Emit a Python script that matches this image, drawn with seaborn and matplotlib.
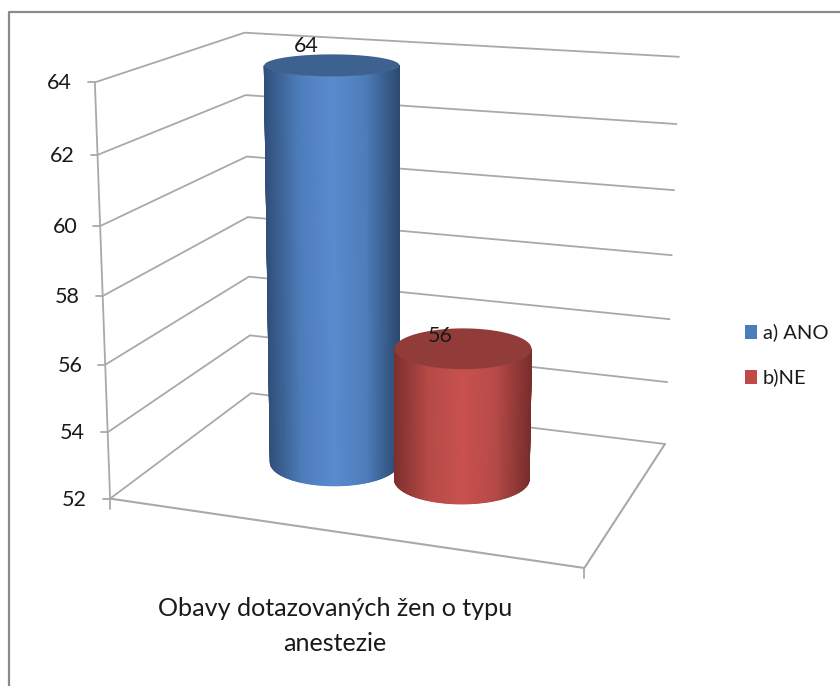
import numpy as np
import pandas as pd
import matplotlib
matplotlib.use("Agg")
import matplotlib.pyplot as plt
from matplotlib.patches import Polygon, Rectangle
import seaborn as sns

# Chart content
series_names = ["a) ANO", "b)NE"]
series_values = [64, 56]
tick_values = [52, 54, 56, 58, 60, 62, 64]
category_lines = "Obavy dotazovaných žen o typu\nanestezie"
value_min, value_max = 52, 64

# Colours
edge_shades = [["#31507b", "#4d7dba", "#5a8bcf", "#4d7dba", "#2d4a72"],
               ["#7d302e", "#b64a47", "#c9514f", "#b64a47", "#7a2e2c"]]
top_colours = ["#3e628f", "#913c39"]
swatch_colours = ["#4a7ebb", "#be4b48"]
grid_colour = "#a9a9a9"
frame_colour = "#8a8a8a"
text_colour = "#1a1a1a"

WIDTH, HEIGHT = 840, 686
FONT = "Lato"

sns.set_theme(style="white")
plt.rcParams["font.family"] = [FONT, "DejaVu Sans"]

# Perspective camera of the 3D plot box: box coordinates (x, depth, value)
# on the left of each pair, canvas position on the right.
box_anchors = [
    ((0, 0, 52), (110, 499)), ((0, 0, 58), (103, 296)), ((0, 0, 64), (95, 82)),
    ((0, 1, 52), (251, 393)), ((0, 1, 58), (248, 217)), ((0, 1, 64), (244, 33)),
    ((1, 1, 52), (665, 444)), ((1, 1, 58), (672, 255)), ((1, 1, 64), (679, 57)),
    ((1, 0, 52), (584, 568)),
]


def fit_camera(anchors):
    rows = []
    for (x, z, v), (px, py) in anchors:
        w = (v - value_min) / (value_max - value_min)
        rows.append([x, z, w, 1, 0, 0, 0, 0, -px * x, -px * z, -px * w, -px])
        rows.append([0, 0, 0, 0, x, z, w, 1, -py * x, -py * z, -py * w, -py])
    return np.linalg.svd(np.array(rows, float))[2][-1].reshape(3, 4)


camera = fit_camera(box_anchors)


def project(x, z, v):
    x, z, v = np.broadcast_arrays(x, z, v)
    w = (v - value_min) / (value_max - value_min)
    h = np.stack([x, z, w, np.ones_like(w, dtype=float)])
    p = camera @ h
    return p[0] / p[2], p[1] / p[2]


fig = plt.figure(figsize=(WIDTH / 100, HEIGHT / 100), dpi=100, facecolor="white")
ax = fig.add_axes([0, 0, 1, 1])
ax.set_xlim(0, WIDTH)
ax.set_ylim(HEIGHT, 0)
ax.axis("off")

# Outer chart frame
ax.plot([9, 9, WIDTH + 5], [HEIGHT + 5, 12, 12], color=frame_colour, lw=1.6)

# Wall gridlines, one polyline per tick value
grid_rows = []
for tick in tick_values:
    px, py = project(np.array([0.0, 0.0, 1.0]), np.array([0.0, 1.0, 1.0]), tick)
    for a, b in zip(px, py):
        grid_rows.append({"tick": tick, "px": a, "py": b})
grid_df = pd.DataFrame(grid_rows)
sns.lineplot(data=grid_df, x="px", y="py", units="tick", estimator=None, sort=False,
             color=grid_colour, lw=1.3, ax=ax, legend=False)

# Floor outline, vertical axis, tick marks
fx, fy = project(np.array([0.0, 1.0, 1.0]), np.array([0.0, 0.0, 1.0]), value_min)
ax.plot(fx, fy, color=grid_colour, lw=1.5)
ax.plot(*project(0.0, 0.0, np.array([52.0, 64.0])), color=grid_colour, lw=1.3)
for tick in tick_values:
    tx, ty = project(0.0, 0.0, tick)
    ax.plot([tx - 7, tx], [ty, ty], color=grid_colour, lw=1.3)
    ax.text(tx - 23, ty + 1, str(tick), ha="right", va="center", fontsize=15.5, color=text_colour)
for x in (0.0, 1.0):
    tx, ty = project(x, 0.0, value_min)
    ax.plot([tx, tx], [ty, ty + 10], color=grid_colour, lw=1.3)


def disc(cx, cz, rx, rz, value):
    """Centre and screen semi-axes of a horizontal disc at the given value."""
    v = float(value)
    left, _ = project(cx - rx, cz, v)
    right, _ = project(cx + rx, cz, v)
    _, near = project(cx, cz - rz, v)
    _, far = project(cx, cz + rz, v)
    return (left + right) / 2, (near + far) / 2, (right - left) / 2, abs(near - far) / 2


# Cylinders: a shaded side surface plus a flat lid, each placed through the camera
bar_centres = [0.353, 0.641]
bar_radius_x = 0.149
bar_radius_z = 0.21
label_offsets = [(-26, -19), (-23, -13)]
u = -np.cos(np.linspace(0, np.pi, 121))
for i, value in enumerate(series_values):
    cmap = sns.blend_palette(edge_shades[i], as_cmap=True)
    bx, by, bsx, bsy = disc(bar_centres[i], 0.5, bar_radius_x, bar_radius_z, value_min)
    tx, ty, tsx, tsy = disc(bar_centres[i], 0.5, bar_radius_x, bar_radius_z, value)
    arc = np.sqrt(1 - u ** 2)
    mesh_x = np.vstack([tx + tsx * u, bx + bsx * u])
    mesh_y = np.vstack([ty + tsy * arc, by + bsy * arc])
    ax.pcolormesh(mesh_x, mesh_y, np.vstack([u, u]), cmap=cmap, vmin=-1, vmax=1,
                  shading="gouraud", zorder=3 + i)
    ring = np.linspace(0, 2 * np.pi, 181)
    ax.add_patch(Polygon(np.c_[tx + tsx * np.cos(ring), ty + tsy * np.sin(ring)], closed=True,
                         facecolor=top_colours[i], edgecolor="none", zorder=3 + i))
    dx, dy = label_offsets[i]
    ax.text(tx + dx, ty + dy, str(value), ha="center", va="center", fontsize=15.5,
            color=text_colour, zorder=6)

# Category label under the floor
ax.text(335, 626, category_lines, ha="center", va="center", fontsize=18.1,
        color=text_colour, linespacing=1.59)

# Legend
for name, colour, ly in zip(series_names, swatch_colours, [332, 377]):
    ax.add_patch(Rectangle((745, ly - 7), 12, 14, facecolor=colour, edgecolor="none"))
    ax.text(763, ly, name, ha="left", va="center", fontsize=14.5, color=text_colour)

ax.set_xlim(0, WIDTH)
ax.set_ylim(HEIGHT, 0)
fig.savefig("out.png", dpi=100, facecolor="white")
